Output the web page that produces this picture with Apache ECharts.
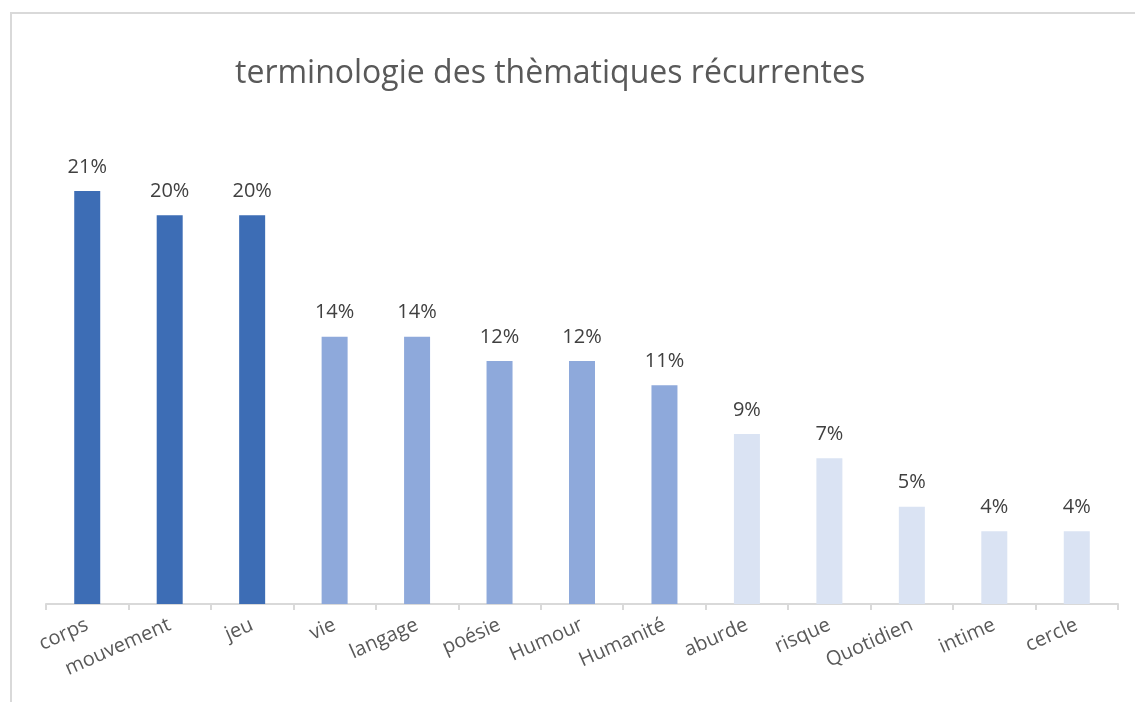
<!DOCTYPE html>
<html>
<head>
<meta charset="utf-8">
<script src="https://cdn.jsdelivr.net/npm/echarts@6/dist/echarts.min.js"></script>
<style>
  html, body { margin: 0; padding: 0; background: #fff; }
  #chart { width: 1135px; height: 702px; }
</style>
</head>
<body>
<div id="chart"></div>
<script>
// Recurring themes: share of mentions per term (percent)
const categories = ['corps', 'mouvement', 'jeu', 'vie', 'langage', 'poésie', 'Humour',
  'Humanité', 'aburde', 'risque', 'Quotidien', 'intime', 'cercle'];
const shares = [20.99, 19.75, 19.75, 13.58, 13.58, 12.35, 12.35, 11.11, 8.64, 7.41, 4.94, 3.70, 3.70];
// Frequency tier of each term: 0 = most frequent, 2 = least
const tiers = [0, 0, 0, 1, 1, 1, 1, 1, 2, 2, 2, 2, 2];
const tierColors = ['#3D6DB5', '#8EA9DB', '#DAE3F3'];

const FONT = '"Open Sans", "Noto Sans", sans-serif';

const chart = echarts.init(document.getElementById('chart'), null, { renderer: 'canvas' });

chart.setOption({
  animation: false,
  backgroundColor: '#ffffff',
  title: {
    text: 'terminologie des thèmatiques récurrentes',
    left: 230,
    top: 53,
    textStyle: { fontFamily: FONT, fontSize: 32, fontWeight: 'normal', color: '#595959' }
  },
  graphic: [
    {
      type: 'polyline',
      shape: { points: [[11, 702], [11, 13], [1135, 13]] },
      style: { stroke: '#d9d9d9', lineWidth: 2, fill: null },
      silent: true
    }
  ],
  grid: { left: 46, right: 17, top: 112, bottom: 98 },
  xAxis: {
    type: 'category',
    data: categories,
    axisLine: { lineStyle: { color: '#d9d9d9', width: 2 } },
    axisTick: { show: true, length: 6, lineStyle: { color: '#d9d9d9', width: 2 } },
    axisLabel: {
      interval: 0,
      rotate: 24,
      margin: 20,
      fontFamily: FONT,
      fontSize: 20,
      color: '#595959'
    }
  },
  yAxis: {
    type: 'value',
    min: 0,
    max: 25,
    interval: 5,
    show: false,
    splitLine: { show: false }
  },
  series: [{
    type: 'bar',
    barWidth: 26,
    data: shares.map((v, i) => ({ value: v, itemStyle: { color: tierColors[tiers[i]] } })),
    label: {
      show: true,
      position: 'top',
      distance: 14,
      fontFamily: FONT,
      fontSize: 20,
      color: '#404040',
      formatter: p => Math.round(p.value) + '%'
    }
  }]
});
</script>
</body>
</html>
